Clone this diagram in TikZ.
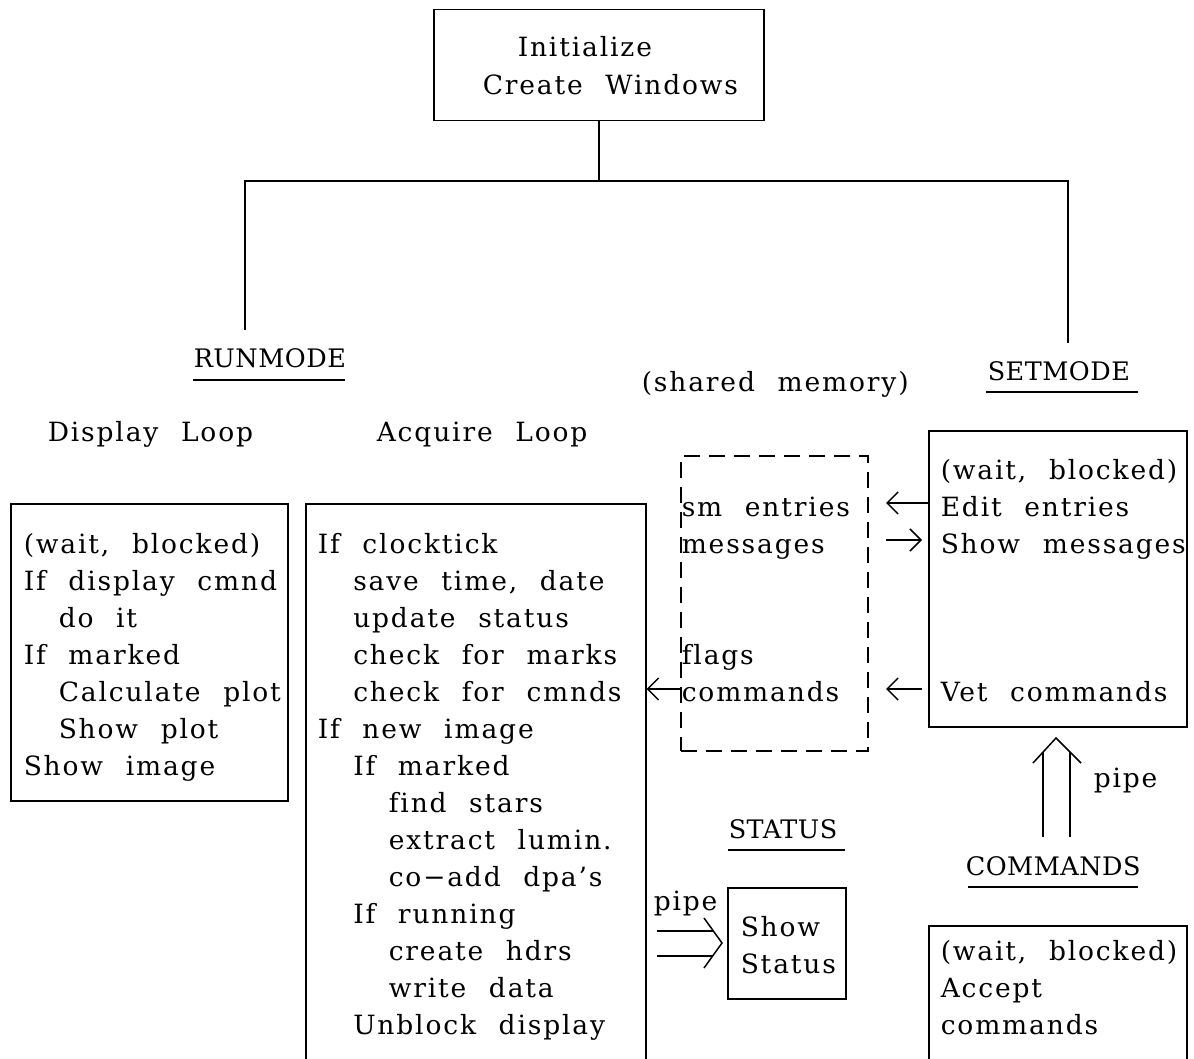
\documentclass[tikz,border=0pt]{standalone}
\usepackage{fontspec}
\setmainfont{DejaVu Serif}[LetterSpace=7,WordSpace=2.2,Ligatures=NoCommon]
\newfontfamily\capsfont{DejaVu Serif}[LetterSpace=2]
\usetikzlibrary{arrows.meta}
\begin{document}
\begin{tikzpicture}[x=1pt,y=-1pt,line width=1.5pt,
  box/.style={draw,anchor=north west,inner sep=0pt},
  dbox/.style={box,dash pattern=on 16pt off 9pt},
  txt/.style={inner sep=0pt,anchor=base west,font=\fontsize{26.5}{30}\selectfont},
  caplabel/.style={inner sep=0pt,anchor=base west,font=\fontsize{25.5}{30}\selectfont\capsfont},
  arr/.style={-{Straight Barb[length=11pt,width=22pt]}}]
\clip (0,0) rectangle (1194,1059);
\fill[white] (0,0) rectangle (1194,1059);

% boxes
\node[box,minimum width=330pt,minimum height=111pt] (init) at (433,9) {};
\node[box,minimum width=277pt,minimum height=297pt] (disp) at (10,503) {};
\node[box,minimum width=340pt,minimum height=600pt] (acq) at (305,503) {};
\node[dbox,minimum width=187pt,minimum height=295pt] (shm) at (680,455) {};
\node[box,minimum width=258pt,minimum height=296pt] (setm) at (928,430) {};
\node[box,minimum width=118pt,minimum height=111pt] (stat) at (727,887) {};
\node[box,minimum width=258pt,minimum height=200pt] (cmd) at (928,925) {};

% init text
\node[txt] (i1) at (517,57) {Initialize};
\node[txt] (i2) at (482,95) {Create Windows};

% tree
\coordinate (jl) at (245,181);
\coordinate (jr) at (1068,181);
\coordinate (rl) at (245,330);
\coordinate (rr) at (1068,343);
\draw (init.south) -- (init.south |- jl);
\draw (rl) -- (jl) -- (jr) -- (rr);

% labels
\node[caplabel] (runl) at (193,367) {RUNMODE};
\draw (193,380) -- (345,380);
\node[caplabel] (setl) at (987,380) {SETMODE};
\draw (986,392) -- (1138,392);
\node[caplabel] (statl) at (728,838) {STATUS};
\draw (728,850) -- (845,850);
\node[caplabel] (cmdl) at (965,875) {COMMANDS};
\draw (968,887) -- (1138,887);
\node[txt] (shml) at (641,391) {(shared memory)};
\node[txt] (displ) at (47,441) {Display Loop};
\node[txt] (acql) at (376,441) {Acquire Loop};
\node[txt] (pipe1) at (1093,787) {pipe};
\node[txt] (pipe2) at (653,910) {pipe};

% display loop text
\foreach \k/\ind/\ltext in {0/0/{(wait, blocked)},1/0/{If display cmnd},2/1/{do it},3/0/{If marked},4/1/{Calculate plot},5/1/{Show plot},6/0/{Show image}}
  \node[txt] (d\k) at ({23+35*\ind},{553+37*\k}) {\ltext};

% acquire loop text
\foreach \k/\ind/\ltext in {0/0/{If clocktick},1/1/{save time, date},2/1/{update status},3/1/{check for marks},4/1/{check for cmnds},5/0/{If new image},6/1/{If marked},7/2/{find stars},8/2/{extract lumin.},9/2/{co−add dpa’s},10/1/{If running},11/2/{create hdrs},12/2/{write data},13/1/{Unblock display}}
  \node[txt] (a\k) at ({317+35.5*\ind},{553+37*\k}) {\ltext};

% shared memory text
\node[txt] (s1) at (681,516) {sm entries};
\node[txt] (s2) at (681,553) {messages};
\node[txt] (s3) at (681,664) {flags};
\node[txt] (s4) at (681,701) {commands};

% setmode text
\node[txt] (e1) at (940,479) {(wait, blocked)};
\node[txt] (e2) at (940,516) {Edit entries};
\node[txt] (e3) at (940,553) {Show messages};
\node[txt] (e4) at (940,701) {Vet commands};

% status text
\node[txt] (t1) at (740,936) {Show};
\node[txt] (t2) at (740,973) {Status};

% commands text
\node[txt] (c1) at (940,960) {(wait, blocked)};
\node[txt] (c2) at (940,997) {Accept};
\node[txt] (c3) at (940,1034) {commands};

% single arrows
\coordinate (q1) at (886,503);
\coordinate (q2a) at (886,540);
\coordinate (q2b) at (922,540);
\coordinate (q3a) at (922,689);
\coordinate (q3b) at (886,689);
\draw[arr] (setm.west |- q1) -- (q1);
\draw[arr] (q2a) -- (q2b);
\draw[arr] (q3a) -- (q3b);
\draw[arr] (shm.west |- q3b) -- (acq.east |- q3b);

% double arrow (pipe up)
\coordinate (pu) at (1056,738);
\draw (1043,837) -- (1043,752);
\draw (1070,837) -- (1070,752);
\draw (1033,763) -- (pu) -- (1081,763);

% double arrow (pipe right)
\coordinate (pr) at (722,943);
\draw (657,931) -- (713,931);
\draw (657,956) -- (713,956);
\draw (704,918) -- (pr) -- (704,968);
\end{tikzpicture}
\end{document}
